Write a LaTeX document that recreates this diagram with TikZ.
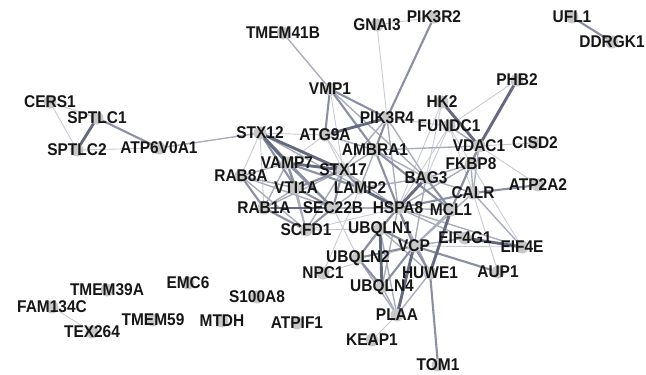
\documentclass[tikz,border=0pt]{standalone}
\usepackage{fontspec}
\setmainfont{Liberation Sans}
\begin{document}
\begin{tikzpicture}[x=1pt,y=-1pt,
  ea/.style={draw=edgeA,line width=0.9pt},
  eb/.style={draw=edgeB,line width=1.4pt},
  ec/.style={draw=edgeC,line width=2.1pt},
  ed/.style={draw=edgeD,line width=2.9pt},
  protlab/.style={inner sep=0pt,text=labcol,font=\fontsize{17}{17}\selectfont\bfseries},
]
\definecolor{edgeA}{HTML}{C9CBD4}
\definecolor{edgeB}{HTML}{A9ADBB}
\definecolor{edgeC}{HTML}{8A8FA2}
\definecolor{edgeD}{HTML}{656A7E}
\definecolor{dotcol}{HTML}{C8C8C8}
\definecolor{labcol}{HTML}{161616}
\useasboundingbox (0,0) rectangle (646,375);

% protein positions
\foreach \n/\x/\y in {
  CERS1/50/102, SPTLC1/97/118, SPTLC2/77/150, ATP6V0A1/159/148,
  TMEM41B/283/33, GNAI3/377/25, PIK3R2/434/17, UFL1/572/17, DDRGK1/612/42,
  VMP1/330/89, PIK3R4/387/118, PHB2/517/80, HK2/442/102, FUNDC1/449/126,
  STX12/260/133, ATG9A/325/135, AMBRA1/375/150, VDAC1/479/146, CISD2/535/143,
  FKBP8/471/164, VAMP7/287/163, STX17/343/170, RAB8A/241/176, BAG3/426/178,
  ATP2A2/538/185, VTI1A/296/188, LAMP2/360/188, CALR/473/193, RAB1A/264/208,
  SEC22B/333/208, HSPA8/398/208, MCL1/451/210, SCFD1/306/230, UBQLN1/380/229,
  EIF4G1/465/238, EIF4E/522/247, VCP/414/246, UBQLN2/358/258, NPC1/323/273,
  HUWE1/430/273, AUP1/498/272, UBQLN4/382/287, EMC6/188/283, TMEM39A/107/290,
  S100A8/257/297, FAM134C/52/307, PLAA/397/315, TMEM59/153/320, MTDH/222/321,
  ATPIF1/297/323, TEX264/92/332, KEAP1/372/340, TOM1/438/365}
  \coordinate (\n) at (\x,\y);

% interactions, weakest first
\foreach \a/\b in {CERS1/SPTLC1, CERS1/SPTLC2, SPTLC2/ATP6V0A1, FAM134C/TEX264,
  GNAI3/PIK3R2, GNAI3/PIK3R4, VMP1/STX17, PIK3R4/FUNDC1, STX12/ATG9A,
  STX12/RAB8A, STX12/RAB1A, ATG9A/STX17, ATG9A/VAMP7, ATG9A/LAMP2,
  SEC22B/UBQLN2, SCFD1/HSPA8, SCFD1/UBQLN1, LAMP2/NPC1, HSPA8/FUNDC1,
  HSPA8/HK2, BAG3/FUNDC1, HK2/BAG3, PHB2/FUNDC1, FUNDC1/ATP2A2, FUNDC1/CALR,
  FUNDC1/FKBP8, VDAC1/CISD2, FKBP8/EIF4E, CALR/AUP1, VCP/EIF4E, VCP/NPC1,
  PLAA/KEAP1}
  \draw[ea] (\a) -- (\b);
\foreach \a/\b in {ATP6V0A1/STX12, TMEM41B/VMP1, VMP1/BAG3, PIK3R4/STX17,
  PIK3R4/HSPA8, PIK3R4/BAG3, STX12/LAMP2, ATG9A/AMBRA1, AMBRA1/VDAC1,
  AMBRA1/BAG3, AMBRA1/STX17, AMBRA1/LAMP2, VAMP7/RAB8A, VAMP7/SCFD1,
  VAMP7/RAB1A, STX17/HSPA8, STX17/SCFD1, STX17/RAB1A, VTI1A/SCFD1,
  VTI1A/RAB1A, VTI1A/RAB8A, RAB8A/SCFD1, RAB8A/SEC22B, SEC22B/LAMP2,
  SEC22B/HSPA8, LAMP2/BAG3, HSPA8/UBQLN2, HSPA8/HUWE1, HSPA8/FKBP8,
  HSPA8/MCL1, HSPA8/EIF4G1, HSPA8/EIF4E, HSPA8/UBQLN4, BAG3/CALR, BAG3/FKBP8,
  BAG3/VCP, FUNDC1/VDAC1, VDAC1/CALR, FKBP8/CALR, FKBP8/MCL1, CALR/VCP,
  CALR/EIF4E, MCL1/VCP, EIF4G1/VCP, UBQLN1/PLAA, UBQLN2/PLAA, UBQLN4/PLAA,
  HUWE1/UBQLN1, HUWE1/PLAA}
  \draw[eb] (\a) -- (\b);
\foreach \a/\b in {SPTLC1/ATP6V0A1, UFL1/DDRGK1, PIK3R2/PIK3R4, VMP1/PIK3R4,
  VMP1/ATG9A, VMP1/AMBRA1, PIK3R4/AMBRA1, STX12/VTI1A, STX12/SEC22B,
  AMBRA1/HSPA8, AMBRA1/MCL1, VAMP7/VTI1A, VAMP7/SEC22B, VAMP7/LAMP2,
  STX17/LAMP2, STX17/SEC22B, STX17/VTI1A, VTI1A/SEC22B, RAB8A/RAB1A,
  RAB1A/SCFD1, SEC22B/SCFD1, HSPA8/VCP, HSPA8/UBQLN1, HSPA8/CALR, BAG3/MCL1,
  VDAC1/FKBP8, VDAC1/MCL1, CALR/ATP2A2, VCP/AUP1, VCP/UBQLN1, VCP/UBQLN2,
  VCP/UBQLN4, VCP/HUWE1, UBQLN1/UBQLN2, UBQLN2/UBQLN4, HUWE1/TOM1}
  \draw[ec] (\a) -- (\b);
\foreach \a/\b in {SPTLC1/SPTLC2, PIK3R4/ATG9A, STX12/VAMP7, STX12/STX17,
  VAMP7/STX17, RAB1A/SEC22B, LAMP2/HSPA8, HSPA8/BAG3, HK2/VDAC1, PHB2/VDAC1,
  MCL1/HUWE1, EIF4G1/EIF4E, VCP/PLAA, UBQLN1/UBQLN4}
  \draw[ed] (\a) -- (\b);

% protein dots and names
\foreach \n in {CERS1, SPTLC1, SPTLC2, ATP6V0A1, TMEM41B, GNAI3, PIK3R2, UFL1,
  DDRGK1, VMP1, PIK3R4, PHB2, HK2, FUNDC1, STX12, ATG9A, AMBRA1, VDAC1, CISD2,
  FKBP8, VAMP7, STX17, RAB8A, BAG3, ATP2A2, VTI1A, LAMP2, CALR, RAB1A, SEC22B,
  HSPA8, MCL1, SCFD1, UBQLN1, EIF4G1, EIF4E, VCP, UBQLN2, NPC1, HUWE1, AUP1,
  UBQLN4, EMC6, TMEM39A, S100A8, FAM134C, PLAA, TMEM59, MTDH, ATPIF1, TEX264,
  KEAP1, TOM1}
  \fill[dotcol] (\n) circle (6.5);
\foreach \n in {CERS1, SPTLC1, SPTLC2, ATP6V0A1, TMEM41B, GNAI3, PIK3R2, UFL1,
  DDRGK1, VMP1, PIK3R4, PHB2, HK2, FUNDC1, STX12, ATG9A, AMBRA1, VDAC1, CISD2,
  FKBP8, VAMP7, STX17, RAB8A, BAG3, ATP2A2, VTI1A, LAMP2, CALR, RAB1A, SEC22B,
  HSPA8, MCL1, SCFD1, UBQLN1, EIF4G1, EIF4E, VCP, UBQLN2, NPC1, HUWE1, AUP1,
  UBQLN4, EMC6, TMEM39A, S100A8, FAM134C, PLAA, TMEM59, MTDH, ATPIF1, TEX264,
  KEAP1, TOM1}
  \node[protlab] (lab\n) at (\n) {\scalebox{0.91}[1]{\n}};
\end{tikzpicture}
\end{document}
